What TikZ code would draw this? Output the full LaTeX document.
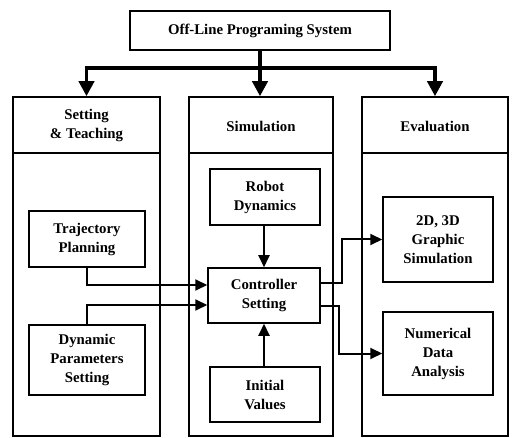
\documentclass[tikz,border=0pt]{standalone}
\usepackage{fontspec}
\setmainfont{Liberation Serif}
\usetikzlibrary{arrows.meta,calc}
\begin{document}
\begin{tikzpicture}[x=1pt,y=-1pt,
  every node/.style={font=\fontsize{14.8}{19}\selectfont\bfseries, align=center, inner sep=0pt},
  boxx/.style={draw, line width=1.5pt},
  col/.style={draw, line width=1.5pt, minimum height=339pt},
  conn/.style={line width=2pt, -{Triangle[length=12pt,width=11pt]}},
  big/.style={line width=3.8pt, -{Triangle[length=15pt,width=15pt]}}
]
\useasboundingbox (0,0) rectangle (514,438);
% top
\node[boxx, minimum width=260pt, minimum height=39pt] (top) at (260,30.5) {Off-Line Programing System};
% columns
\node[col, minimum width=147pt] (lcol) at (86.5,266.5) {};
\node[col, minimum width=144pt] (mcol) at (261,266.5) {};
\node[col, minimum width=146pt] (rcol) at (435,266.5) {};
\draw[line width=1.5pt] (lcol.west |- 0,153) -- (lcol.east |- 0,153);
\draw[line width=1.5pt] (mcol.west |- 0,153) -- (mcol.east |- 0,153);
\draw[line width=1.5pt] (rcol.west |- 0,153) -- (rcol.east |- 0,153);
\node (lh) at (86.5,126) {Setting\\\& Teaching};
\node (mh) at (261,126) {Simulation};
\node (rh) at (435,126) {Evaluation};
% inner boxes
\node[boxx, minimum width=116pt, minimum height=56pt] (traj) at (87,239) {Trajectory\\Planning};
\node[boxx, minimum width=116pt, minimum height=70pt] (dyn) at (87,360) {Dynamic\\Parameters\\Setting};
\node[boxx, minimum width=110pt, minimum height=56pt] (robot) at (265,197) {Robot\\Dynamics};
\node[boxx, minimum width=112pt, minimum height=55pt] (ctrl) at (264,295.5) {Controller\\Setting};
\node[boxx, minimum width=110pt, minimum height=55pt] (init) at (265,394.5) {Initial\\Values};
\node[boxx, minimum width=110pt, minimum height=85pt] (g2d) at (438,239.5) {2D, 3D\\Graphic\\Simulation};
\node[boxx, minimum width=110pt, minimum height=83pt] (num) at (438,353.5) {Numerical\\Data\\Analysis};
% big arrows
\coordinate (j) at (260,68);
\draw[line width=3.8pt] (top.south) -- (j);
\draw[big] (j) -| (lcol.north);
\draw[big] (j) -| (rcol.north);
\draw[big] (j) -- (j |- mcol.north);
% connectors
\draw[conn] (traj.south) |- ([yshift=10.5pt]ctrl.west);
\draw[conn] (dyn.north) |- ([yshift=-9.5pt]ctrl.west);
\draw[conn] (robot.south -| ctrl.north) -- (ctrl.north);
\draw[conn] (init.north -| ctrl.south) -- (ctrl.south);
\draw[conn] ([yshift=12.5pt]ctrl.east) -| ([xshift=-40pt]g2d.west) -- (g2d.west);
\draw[conn] ([yshift=-10.5pt]ctrl.east) -| ([xshift=-43pt]num.west) -- (num.west);
\end{tikzpicture}
\end{document}
